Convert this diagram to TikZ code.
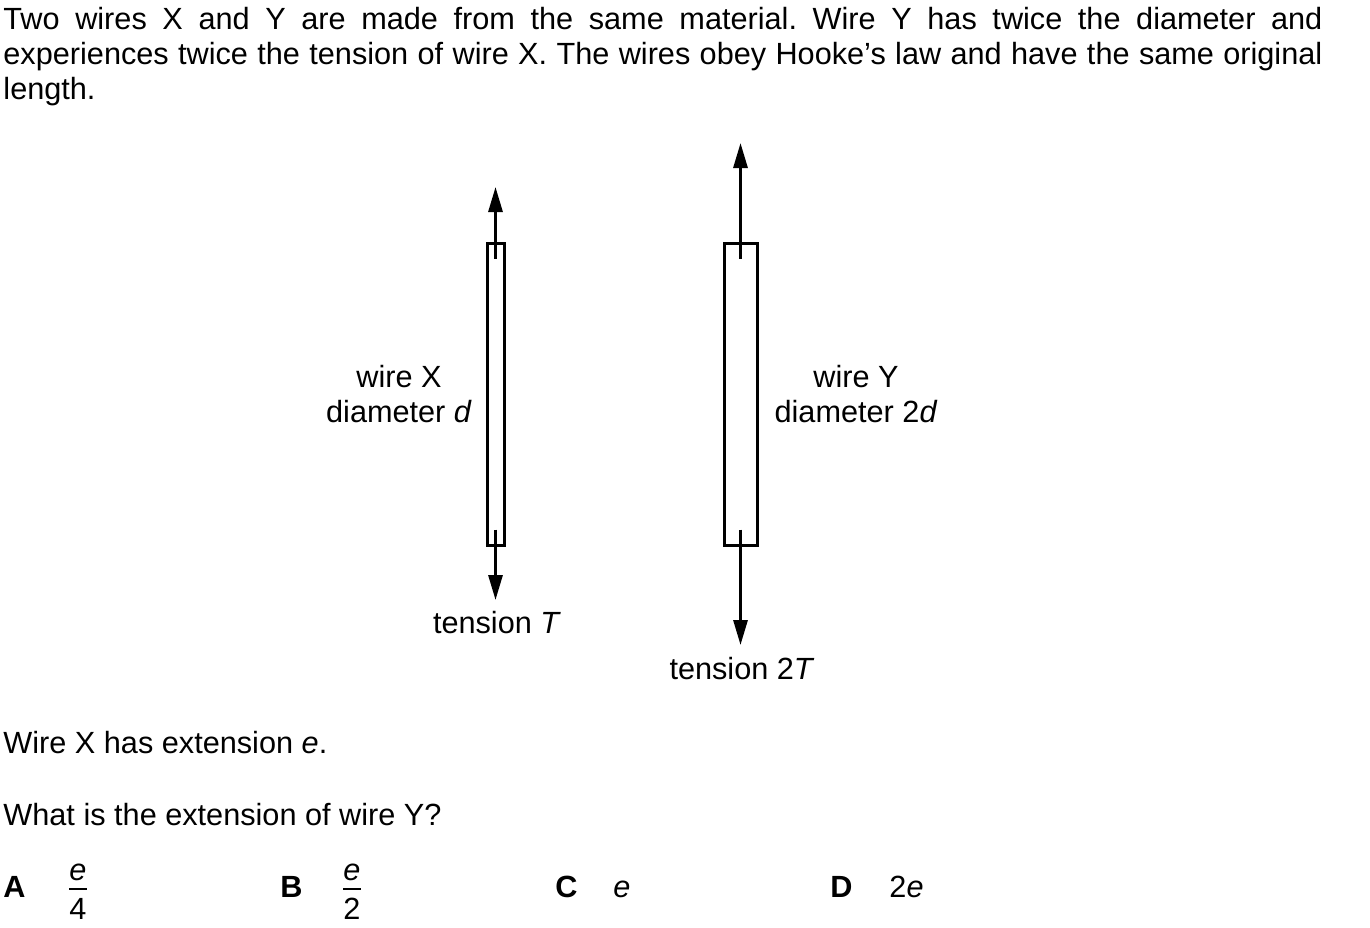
\documentclass[tikz,border=0pt]{standalone}
\usepackage{amsmath}
\usepackage{fontspec}
\setmainfont{Liberation Sans}
\usetikzlibrary{arrows.meta,calc,positioning}
\frenchspacing

\newcommand{\ansfrac}[2]{\ensuremath{\genfrac{}{}{1.2pt}{0}{\raisebox{-2.5pt}[\height][0pt]{#1}}{\mbox{#2}}}}

\begin{document}
\begin{tikzpicture}[
    x=0.45pt, y=-0.45pt,
    font=\fontsize{13.8}{15.75}\selectfont,
    txt/.style={inner sep=0pt, anchor=base west},
    lbl/.style={inner sep=0pt, align=center, anchor=base},
    wirebox/.style={draw=black, line width=1.35pt, inner sep=0pt, minimum height=302*0.45pt},
    force/.style={line width=1.35pt, -{Triangle[length=11.25pt, width=6.3pt]}},
    opt/.style={inner sep=0pt, anchor=base west, font=\fontsize{13.8}{15.75}\selectfont\bfseries},
  ]
    \useasboundingbox (0,0) rectangle (1370,927);

    % question stem
    \node[txt, text width=1319*0.45pt, align=justify] (stem) at (3,29) {%
      Two wires X and Y are made from the same material. Wire Y has twice the diameter and\linebreak
      experiences twice the tension of wire X. The wires obey Hooke’s law and have the same original\linebreak
      length.};

    % the two wires
    \node[wirebox, minimum width=17*0.45pt] (wireX) at (495.5,394) {};
    \node[wirebox, minimum width=33*0.45pt] (wireY) at (740.5,394) {};

    \coordinate (xtop) at (495.5,187);
    \coordinate (xbot) at (495.5,600);
    \coordinate (ytop) at (740.5,143);
    \coordinate (ybot) at (740.5,645);

    \draw[force] ($(wireX.north)+(0,17)$) -- (xtop);
    \draw[force] ($(wireX.south)+(0,-17)$) -- (xbot);
    \draw[force] ($(wireY.north)+(0,17)$) -- (ytop);
    \draw[force] ($(wireY.south)+(0,-17)$) -- (ybot);

    \node[lbl] (labX) at (399,422) {wire X\\diameter \textit{d}};
    \node[lbl] (labY) at (856,422) {wire Y\\diameter 2\textit{d}};
    \node[lbl] (tenX) at (497,633) {tension \textit{T}};
    \node[lbl] (tenY) at (742,679) {tension 2\textit{T}};

    % question
    \node[txt] (given) at (3,753) {Wire X has extension \textit{e}.};
    \node[txt] (ask) at (3,825) {What is the extension of wire Y?};

    % options
    \node[opt] (optA) at (3,897) {A};
    \node[lbl] (ansA) at (78,897) {\ansfrac{\textit{e}}{4}};
    \node[opt] (optB) at (280,897) {B};
    \node[lbl] (ansB) at (352,897) {\ansfrac{\textit{e}}{2}};
    \node[opt] (optC) at (555,897) {C};
    \node[txt] (ansC) at (613,897) {\textit{e}};
    \node[opt] (optD) at (830,897) {D};
    \node[txt] (ansD) at (889,897) {2\textit{e}};
  \end{tikzpicture}
\end{document}
